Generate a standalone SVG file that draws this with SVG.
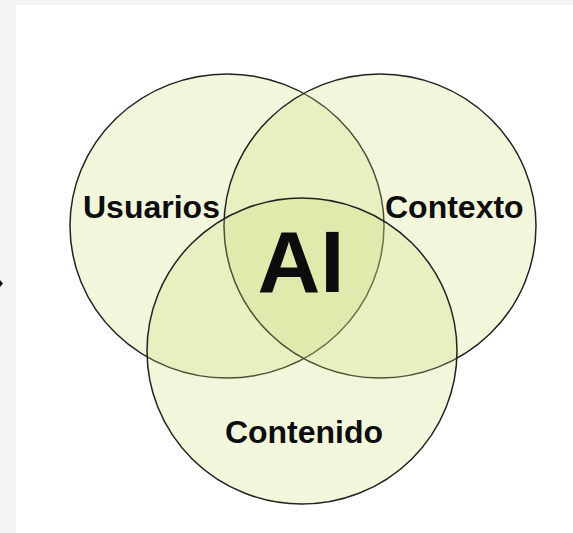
<svg xmlns="http://www.w3.org/2000/svg" width="573" height="533" viewBox="0 0 573 533">
  <style>
    .set { fill: #cddc6e; fill-opacity: 0.25; stroke: #222; stroke-width: 1.5; }
    .lbl { font-family: "Liberation Sans", Arial, sans-serif; font-weight: bold; fill: #0d0d0d; }
  </style>
  <rect x="0" y="0" width="573" height="533" fill="#ffffff"/>
  <rect x="0" y="0" width="16" height="533" fill="#f4f4f4"/>
  <rect x="0" y="0" width="573" height="5" fill="#f4f4f4"/>
  <path d="M0 280 L3 283.5 L0 287 Z" fill="#111"/>
  <g id="usuarios">
    <ellipse class="set" cx="227" cy="226" rx="157" ry="152"/>
    <text class="lbl" x="83" y="218" font-size="32">Usuarios</text>
  </g>
  <g id="contexto">
    <ellipse class="set" cx="380" cy="226" rx="156" ry="152"/>
    <text class="lbl" x="385" y="218" font-size="32">Contexto</text>
  </g>
  <g id="contenido">
    <ellipse class="set" cx="302" cy="351" rx="155" ry="153"/>
    <text class="lbl" x="304" y="443" font-size="32" text-anchor="middle">Contenido</text>
  </g>
  <g id="ai">
    <text class="lbl" x="301" y="292" font-size="87" text-anchor="middle">AI</text>
  </g>
  <g id="connectors"></g>
</svg>
